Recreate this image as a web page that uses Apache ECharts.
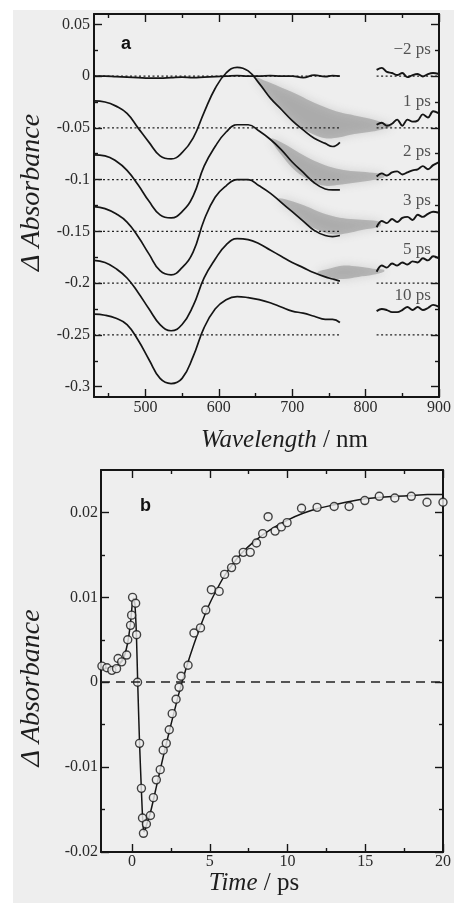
<!DOCTYPE html>
<html><head><meta charset="utf-8">
<script src="https://cdn.jsdelivr.net/npm/echarts@6/dist/echarts.min.js"></script>
<style>
html,body{margin:0;padding:0;background:#fff;width:454px;height:903px;overflow:hidden}
#bg{position:absolute;left:13px;top:10px;width:441px;height:893px;background:#eeeeee}
#chart{position:absolute;left:0;top:0;width:454px;height:903px}
</style></head><body><div id="bg"></div><div id="chart"></div>
<script>
// ---------- Panel a: transient spectra ----------
const wavelengths = [430,445,460,475,490,505,520,535,550,565,580,595,610,625,640,655,670,685,700,715,730,745,755,765];
const nirWavelengths = [815,822,829,836,843,850,857,864,871,878,885,892,900];
const delayLabels = ['\u22122 ps','1 ps','2 ps','3 ps','5 ps','10 ps'];
const delayLabelLevels = [0.026,-0.025,-0.073,-0.120,-0.168,-0.212];
const baselines = [0,-0.05,-0.1,-0.15,-0.2,-0.25];
const mainRange = [430,765];
const nirRange = [815,900];

const spec_m2ps = [0,0,-0.0005,-0.001,-0.0015,-0.002,-0.002,-0.0015,-0.001,-0.0015,-0.001,-0.0005,0,0.0005,0,0,0.0005,0,0,-0.0015,0.001,-0.0005,0.0005,0];
const spec_1ps  = [-0.024,-0.025,-0.029,-0.036,-0.050,-0.064,-0.077,-0.080,-0.074,-0.060,-0.035,-0.012,0.003,0.0085,0.005,-0.007,-0.021,-0.032,-0.043,-0.052,-0.060,-0.065,-0.068,-0.064];
const spec_2ps  = [-0.076,-0.077,-0.082,-0.091,-0.105,-0.121,-0.134,-0.137,-0.131,-0.116,-0.087,-0.068,-0.054,-0.047,-0.047,-0.053,-0.061,-0.071,-0.083,-0.093,-0.103,-0.109,-0.110,-0.110];
const spec_3ps  = [-0.126,-0.128,-0.133,-0.141,-0.155,-0.172,-0.188,-0.192,-0.185,-0.170,-0.139,-0.117,-0.106,-0.100,-0.100,-0.106,-0.113,-0.122,-0.131,-0.140,-0.149,-0.154,-0.155,-0.154];
const spec_5ps  = [-0.178,-0.180,-0.186,-0.195,-0.209,-0.225,-0.240,-0.246,-0.240,-0.222,-0.195,-0.177,-0.163,-0.157,-0.158,-0.162,-0.168,-0.174,-0.180,-0.185,-0.190,-0.194,-0.196,-0.198];
const spec_10ps = [-0.230,-0.231,-0.234,-0.240,-0.255,-0.274,-0.292,-0.297,-0.292,-0.271,-0.243,-0.225,-0.216,-0.213,-0.214,-0.216,-0.219,-0.223,-0.227,-0.229,-0.232,-0.235,-0.235,-0.238];

const nir_m2ps = [0.006,0.008,0.004,0.003,0.001,0.003,-0.001,0.001,0.002,-0.0005,0.002,0.003,0.002];
const nir_1ps  = [-0.047,-0.045,-0.048,-0.046,-0.042,-0.048,-0.042,-0.044,-0.043,-0.037,-0.040,-0.034,-0.036];
const nir_2ps  = [-0.097,-0.094,-0.096,-0.093,-0.092,-0.095,-0.093,-0.091,-0.090,-0.087,-0.090,-0.086,-0.083];
const nir_3ps  = [-0.146,-0.140,-0.142,-0.138,-0.141,-0.137,-0.136,-0.139,-0.134,-0.136,-0.133,-0.131,-0.132];
const nir_5ps  = [-0.189,-0.183,-0.185,-0.181,-0.183,-0.180,-0.182,-0.179,-0.180,-0.176,-0.178,-0.174,-0.176];
const nir_10ps = [-0.227,-0.225,-0.226,-0.228,-0.228,-0.226,-0.223,-0.226,-0.223,-0.226,-0.224,-0.221,-0.223];

// grey NIR-absorption bands (lower and upper edges)
const band1Wl = [650,665,685,705,725,745,765,785,805,820,835];
const band1Lower = [-0.004,-0.015,-0.033,-0.046,-0.055,-0.060,-0.059,-0.056,-0.054,-0.052,-0.049];
const band1Upper = [-0.001,-0.005,-0.011,-0.017,-0.024,-0.030,-0.035,-0.038,-0.041,-0.044,-0.047];
const band2Wl = [672,685,705,725,745,765,785,805,825];
const band2Lower = [-0.063,-0.076,-0.092,-0.101,-0.106,-0.105,-0.103,-0.101,-0.098];
const band2Upper = [-0.060,-0.064,-0.072,-0.080,-0.086,-0.090,-0.092,-0.093,-0.095];
const band3Wl = [682,700,720,740,760,780,800,820];
const band3Lower = [-0.121,-0.131,-0.143,-0.150,-0.153,-0.151,-0.148,-0.145];
const band3Upper = [-0.118,-0.121,-0.126,-0.132,-0.136,-0.138,-0.139,-0.141];
const band4Wl = [735,750,770,790,810,825];
const band4Lower = [-0.191,-0.195,-0.196,-0.194,-0.192,-0.189];
const band4Upper = [-0.189,-0.186,-0.183,-0.184,-0.186,-0.187];

const topXMajor = [500,600,700,800,900];
const topXMinor = [450,550,650,750,850];
const topYMajor = [-0.3,-0.25,-0.2,-0.15,-0.1,-0.05,0,0.05];
const topYMinor = [-0.275,-0.225,-0.175,-0.125,-0.075,-0.025,0.025];

// ---------- Panel b: kinetics ----------
const timePoints = [-1.94,-1.62,-1.30,-1.00,-0.90,-0.67,-0.35,-0.28,-0.10,-0.03,0.03,0.23,0.29,0.35,0.48,0.60,0.67,0.73,0.92,1.18,1.37,1.56,1.81,2.00,2.20,2.39,2.58,2.83,3.02,3.15,3.60,3.98,4.40,4.74,5.10,5.60,5.95,6.40,6.70,7.15,7.60,8.00,8.40,8.75,9.20,9.60,9.97,10.9,11.9,13.0,13.96,14.97,15.9,16.9,17.96,18.97,20.0];
const absPoints = [0.0019,0.0017,0.0014,0.0016,0.0028,0.0024,0.0032,0.0050,0.0067,0.0079,0.0100,0.0093,0.0056,0.0000,-0.0072,-0.0125,-0.0160,-0.0178,-0.0167,-0.0157,-0.0136,-0.0115,-0.0103,-0.0080,-0.0072,-0.0056,-0.0037,-0.0020,-0.0006,0.0007,0.0020,0.0058,0.0064,0.0085,0.0109,0.0107,0.0127,0.0135,0.0144,0.0153,0.0153,0.0164,0.0175,0.0195,0.0178,0.0183,0.0188,0.0205,0.0206,0.0207,0.0207,0.0214,0.0219,0.0217,0.0219,0.0212,0.0212];
const fitTime = [-2,-1.5,-1.0,-0.6,-0.3,-0.1,0.0,0.08,0.18,0.28,0.36,0.48,0.60,0.70,0.78,0.90,1.2,1.6,2.0,2.5,3.0,3.5,4.0,4.5,5.0,5.5,6.0,7.0,8.0,9.0,10.0,11.0,12.0,13.0,14.0,15.0,16.0,17.0,18.0,19.0,20.0];
const fitAbs = [0.0016,0.0017,0.0019,0.0026,0.0045,0.0070,0.0090,0.0099,0.0092,0.0055,0.0000,-0.0072,-0.0128,-0.0168,-0.0176,-0.0170,-0.0152,-0.0120,-0.0088,-0.0050,-0.0014,0.0018,0.0046,0.0071,0.0093,0.0111,0.0127,0.0151,0.0168,0.0181,0.0191,0.0199,0.0205,0.0209,0.0213,0.0216,0.0218,0.0219,0.0220,0.0221,0.0221];

const botXMajor = [0,5,10,15,20];
const botXMinor = [2.5,7.5,12.5,17.5];
const botYMajor = [-0.02,-0.01,0,0.01,0.02];
const botYMinor = [-0.015,-0.005,0.005,0.015];

// ---------- build ----------
const INK = '#151515';
const SERIF = '"Liberation Serif","DejaVu Serif",serif';
const zip = (xs, ys) => xs.map((x, i) => [x, ys[i]]);
const fmt = v => (Math.abs(v) < 1e-9 ? '0' : String(parseFloat(v.toFixed(3))));

function frameAxes(dim, gridIndex, min, max, major, minor, primary) {
  const isX = dim === 'x';
  const posA = isX ? 'bottom' : 'left', posB = isX ? 'top' : 'right';
  const base = { type: 'value', gridIndex, min, max, splitLine: { show: false } };
  const line = { show: true, onZero: false, lineStyle: { color: INK, width: 2 } };
  const noLine = { show: false, onZero: false };
  const tick = (vals, len) => ({ show: true, inside: true, length: len, customValues: vals, lineStyle: { color: INK, width: 1.4 } });
  return [
    Object.assign({}, base, { position: posA, axisLine: line, axisTick: tick(major, 8),
      axisLabel: Object.assign({ show: true, customValues: major, formatter: fmt, color: '#2a2a2a', fontFamily: SERIF, fontSize: 16 }, primary.label) }, primary.name),
    Object.assign({}, base, { position: posA, axisLine: noLine, axisTick: tick(minor, 4), axisLabel: { show: false } }),
    Object.assign({}, base, { position: posB, axisLine: line, axisTick: tick(major, 8), axisLabel: { show: false } }),
    Object.assign({}, base, { position: posB, axisLine: noLine, axisTick: tick(minor, 4), axisLabel: { show: false } })
  ];
}

const nameStyle = (pad, size) => ({
  fontFamily: SERIF, fontSize: size, color: '#1e1e1e', padding: pad,
  rich: { i: { fontStyle: 'italic', fontFamily: SERIF, fontSize: size, color: '#1e1e1e' },
          r: { fontFamily: SERIF, fontSize: size, color: '#1e1e1e' } }
});

const xAxes = [].concat(
  frameAxes('x', 0, 430, 900, topXMajor, topXMinor, {
    label: { margin: 3 },
    name: { name: '{i|Wavelength}{r| / nm}', nameLocation: 'middle', nameGap: 31, nameTextStyle: nameStyle([0,0,0,36], 25) }
  }),
  frameAxes('x', 1, -2, 20, botXMajor, botXMinor, {
    label: { margin: 2 },
    name: { name: '{i|Time}{r| / ps}', nameLocation: 'middle', nameGap: 11, nameTextStyle: nameStyle([0,36,0,0], 25) }
  })
);
const yAxes = [].concat(
  frameAxes('y', 0, -0.31, 0.06, topYMajor, topYMinor, {
    label: { margin: 4 },
    name: { name: '{i|\u0394 Absorbance}', nameLocation: 'middle', nameGap: 45, nameTextStyle: nameStyle([0,0,0,26], 28) }
  }),
  frameAxes('y', 1, -0.02, 0.025, botYMajor, botYMinor, {
    label: { margin: 3 },
    name: { name: '{i|\u0394 Absorbance}', nameLocation: 'middle', nameGap: 55, nameTextStyle: nameStyle([0,54,0,0], 28) }
  })
);

const series = [];
// grey bands drawn as polygons through the axis scales
const bands = [
  { wl: band1Wl, lo: band1Lower, up: band1Upper },
  { wl: band2Wl, lo: band2Lower, up: band2Upper },
  { wl: band3Wl, lo: band3Lower, up: band3Upper },
  { wl: band4Wl, lo: band4Lower, up: band4Upper }
];
series.push({
  type: 'custom', xAxisIndex: 0, yAxisIndex: 0, silent: true, z: 1,
  data: bands.map((b, k) => [b.wl[0], b.lo[0], k]),
  renderItem: (params, api) => {
    const b = bands[api.value(2)];
    const up = b.wl.map((w, i) => api.coord([w, b.up[i]]));
    const lo = b.wl.map((w, i) => api.coord([w, b.lo[i]])).reverse();
    return { type: 'polygon', shape: { points: up.concat(lo), smooth: 0.35 },
      style: { fill: 'rgba(115,115,115,0.40)', shadowBlur: 10, shadowColor: 'rgba(115,115,115,0.6)' } };
  }
});
// dotted baselines
baselines.forEach(b => {
  [mainRange, nirRange].forEach(r => {
    series.push({ type: 'line', xAxisIndex: 0, yAxisIndex: 0, symbol: 'none', silent: true,
      lineStyle: { color: '#222', width: 1.3, type: [2, 2.5] }, data: [[r[0], b], [r[1], b]], z: 2 });
  });
});
// spectra
const mainSpectra = [spec_m2ps, spec_1ps, spec_2ps, spec_3ps, spec_5ps, spec_10ps];
const nirSpectra = [nir_m2ps, nir_1ps, nir_2ps, nir_3ps, nir_5ps, nir_10ps];
mainSpectra.forEach((s, i) => {
  series.push({ type: 'line', name: delayLabels[i], xAxisIndex: 0, yAxisIndex: 0, symbol: 'none', smooth: 0.45,
    lineStyle: { color: INK, width: 1.7 }, data: zip(wavelengths, s), z: 3 });
  series.push({ type: 'line', name: delayLabels[i] + ' NIR', xAxisIndex: 0, yAxisIndex: 0, symbol: 'none', smooth: 0.35,
    lineStyle: { color: INK, width: 1.9 }, data: zip(nirWavelengths, nirSpectra[i]), z: 3 });
});
// delay labels
series.push({ type: 'scatter', xAxisIndex: 0, yAxisIndex: 0, symbolSize: 0, silent: true,
  data: delayLabelLevels.map((y, i) => ({ value: [889, y], name: delayLabels[i] })),
  label: { show: true, position: 'left', distance: 0, formatter: p => p.name, color: '#2a2a2a', fontFamily: SERIF, fontSize: 17 }, z: 4 });

// panel b
series.push({ type: 'line', xAxisIndex: 4, yAxisIndex: 4, symbol: 'none', smooth: 0.2,
  lineStyle: { color: INK, width: 1.5 }, data: zip(fitTime, fitAbs), z: 3,
  markLine: { silent: true, symbol: 'none', label: { show: false },
    lineStyle: { color: '#222', width: 1.5, type: [9, 6] }, data: [{ yAxis: 0 }] } });
series.push({ type: 'scatter', xAxisIndex: 4, yAxisIndex: 4, symbol: 'circle', symbolSize: 8,
  itemStyle: { color: '#eeeeee', borderColor: INK, borderWidth: 1.4 }, data: zip(timePoints, absPoints), z: 4 });

const chart = echarts.init(document.getElementById('chart'), null, { renderer: 'canvas' });
chart.setOption({
  backgroundColor: 'transparent',
  animation: false,
  grid: [
    { left: 94, top: 14, width: 349, height: 383 },
    { left: 101, top: 470, width: 346, height: 382 }
  ],
  xAxis: xAxes,
  yAxis: yAxes,
  graphic: [
    { type: 'text', left: 121, top: 35, style: { text: 'a', font: 'bold 18px "Liberation Sans", Arial, sans-serif', fill: '#111' } },
    { type: 'text', left: 140, top: 497, style: { text: 'b', font: 'bold 18px "Liberation Sans", Arial, sans-serif', fill: '#111' } }
  ],
  series
});
</script></body></html>
